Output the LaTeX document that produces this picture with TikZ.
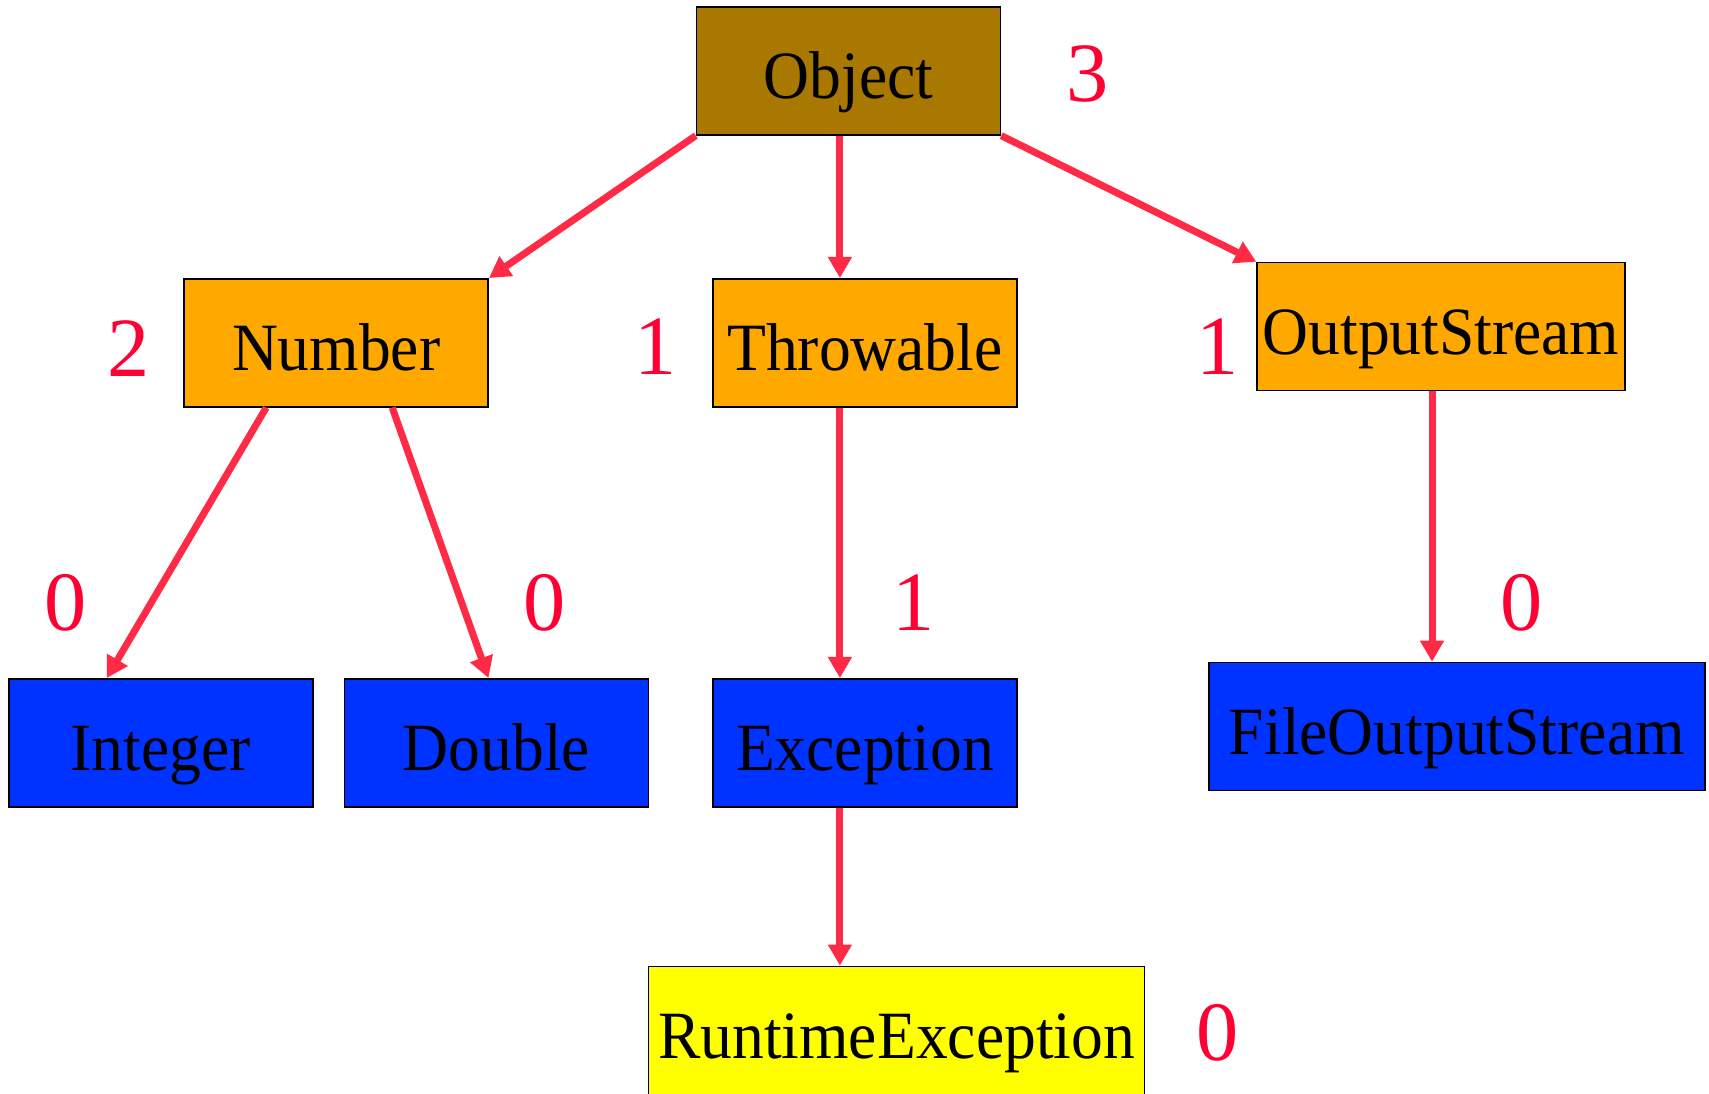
\documentclass[tikz,border=0pt]{standalone}
\usepackage{fontspec}
\setmainfont{Liberation Serif}
\newfontfamily\clsfont[FakeStretch=0.94]{Liberation Serif}
\usetikzlibrary{arrows.meta}
\definecolor{objbrown}{RGB}{168,120,0}
\definecolor{midorange}{RGB}{255,168,0}
\definecolor{leafblue}{RGB}{0,51,255}
\definecolor{runyellow}{RGB}{255,255,0}
\definecolor{arrred}{RGB}{255,42,69}
\definecolor{cntred}{RGB}{255,0,51}
\begin{document}
\begin{tikzpicture}[x=0.02cm,y=-0.02cm,
  cls/.style={draw=black,line width=0.9pt,inner sep=0pt,minimum width=6.08cm,minimum height=2.56cm,text height=1.12cm,text depth=0cm,font=\clsfont\fontsize{38.5}{42}\selectfont},
  cnt/.style={text=cntred,inner sep=0pt,font=\fontsize{48}{52}\selectfont},
  inherit/.style={draw=arrred,line width=4pt,-{Triangle[width=13pt,length=12pt]}}]
\useasboundingbox (0,0) rectangle (1709,1094);
% class hierarchy
\node[cls,fill=objbrown] (obj) at (848.5,70.9) {Object};
\node[cls,fill=midorange] (num) at (336.2,342.8) {Number};
\node[cls,fill=midorange] (thr) at (864.9,342.8) {Throwable};
\node[cls,fill=midorange,minimum width=7.36cm] (ost) at (1441,326.5) {OutputStream};
\node[cls,fill=leafblue] (int) at (160.8,742.8) {Integer};
\node[cls,fill=leafblue] (dbl) at (496.5,742.8) {Double};
\node[cls,fill=leafblue] (exc) at (864.9,742.8) {Exception};
\node[cls,fill=leafblue,minimum width=9.92cm] (fos) at (1456.8,726.5) {FileOutputStream};
\node[cls,fill=runyellow,minimum width=9.92cm] (run) at (896.5,1030.4) {RuntimeException};
% subclass counts
\node[cnt] (cobj) at (1087.8,74) {3};
\node[cnt] (cnum) at (128.6,349) {2};
\node[cnt] (cthr) at (656,347) {1};
\node[cnt] (cost) at (1217.5,347) {1};
\node[cnt] (cint) at (65.4,603) {0};
\node[cnt] (cdbl) at (545,603) {0};
\node[cnt] (cexc) at (913.4,603) {1};
\node[cnt] (cfos) at (1521.6,603) {0};
\node[cnt] (crun) at (1217.5,1033) {0};
% arrows
\coordinate (tx) at ([xshift=-0.5cm]thr.north);
\coordinate (ex) at ([xshift=-0.5cm]exc.south);
\coordinate (ox) at ([xshift=-0.18cm]ost.south);
\draw[inherit] (obj.south west) -- (num.north east);
\draw[inherit] (obj.south -| tx) -- (tx);
\draw[inherit] (obj.south east) -- (ost.north west);
\draw[inherit] ([xshift=-1.4cm]num.south) -- ([xshift=-1.08cm]int.north);
\draw[inherit] ([xshift=1.12cm]num.south) -- ([xshift=-0.16cm]dbl.north);
\draw[inherit] (thr.south -| tx) -- (exc.north -| tx);
\draw[inherit] (ex) -- (run.north -| ex);
\draw[inherit] (ox) -- (fos.north -| ox);
\end{tikzpicture}
\end{document}
